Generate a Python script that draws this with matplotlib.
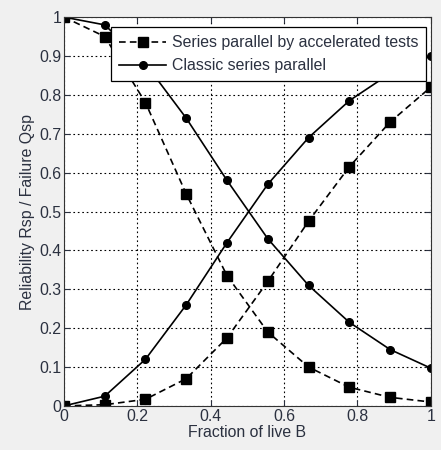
import matplotlib
matplotlib.use("Agg")
import matplotlib.pyplot as plt
import numpy as np

plt.rcParams['font.family'] = ['Liberation Sans', 'DejaVu Sans']

x = [0, 1/9, 2/9, 3/9, 4/9, 5/9, 6/9, 7/9, 8/9, 1]
acc_r = [1.0, 0.95, 0.78, 0.545, 0.335, 0.19, 0.10, 0.048, 0.022, 0.01]
acc_q = [0.0, 0.003, 0.017, 0.07, 0.175, 0.32, 0.475, 0.615, 0.73, 0.82]
cls_r = [1.0, 0.98, 0.88, 0.74, 0.58, 0.43, 0.31, 0.215, 0.145, 0.097]
cls_q = [0.0, 0.025, 0.12, 0.26, 0.42, 0.57, 0.69, 0.785, 0.855, 0.90]

xticks = [0, 0.2, 0.4, 0.6, 0.8, 1]
xticklabels = ['0', '0.2', '0.4', '0.6', '0.8', '1']
yticks = [0, 0.1, 0.2, 0.3, 0.4, 0.5, 0.6, 0.7, 0.8, 0.9, 1]
yticklabels = ['0', '0.1', '0.2', '0.3', '0.4', '0.5', '0.6', '0.7', '0.8', '0.9', '1']

fs = 11.4
tc = '#2b3140'

fig = plt.figure(figsize=(4.41, 4.5), dpi=100, facecolor='#f0f0f0')
ax = fig.add_axes([0.145, 0.098, 0.832, 0.864])
ax.set_facecolor('white')

ax.plot(x, acc_r, 'k--s', lw=1.2, ms=6.5, dashes=(4, 2.5), label='Series parallel by accelerated tests')
ax.plot(x, cls_r, 'k-o', lw=1.2, ms=5.5, label='Classic series parallel')
ax.plot(x, acc_q, 'k--s', lw=1.2, ms=6.5, dashes=(4, 2.5))
ax.plot(x, cls_q, 'k-o', lw=1.2, ms=5.5)

ax.set_xlim(0, 1)
ax.set_ylim(0, 1)
ax.set_xticks(xticks)
ax.set_xticklabels(xticklabels)
ax.set_yticks(yticks)
ax.set_yticklabels(yticklabels)
ax.grid(True, color='black', linestyle=(0, (1.5, 2.5)), lw=0.8)
ax.tick_params(direction='in', labelsize=fs, colors=tc, length=4,
               top=True, right=True, pad=2)
for s in ax.spines.values():
    s.set_color('#333333')
    s.set_linewidth(0.8)
ax.set_xlabel('Fraction of live B', fontsize=fs, color=tc, labelpad=1)
ax.set_ylabel('Reliability Rsp / Failure Qsp', fontsize=fs, color=tc, labelpad=3)

leg = ax.legend(loc='upper right', bbox_to_anchor=(0.988, 0.974), fontsize=fs,
                fancybox=False, framealpha=1, edgecolor='black', handlelength=3.0,
                borderpad=0.5, labelspacing=0.5, handletextpad=0.35, borderaxespad=0)
leg.get_frame().set_linewidth(0.9)
for t in leg.get_texts():
    t.set_color(tc)

fig.savefig('out.png', dpi=100, facecolor=fig.get_facecolor())
